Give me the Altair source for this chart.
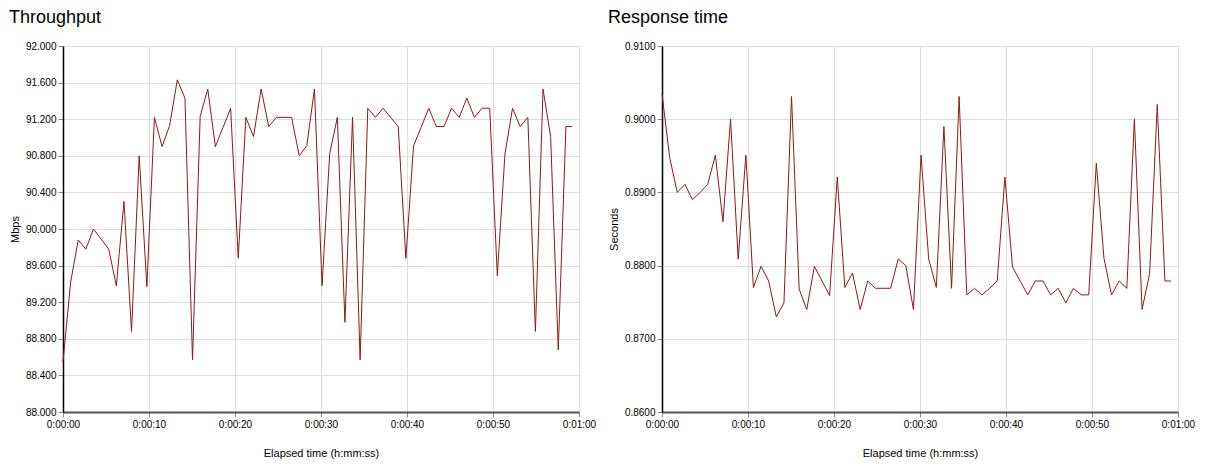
import altair as alt
import pandas as pd

# Elapsed time in seconds for each sample
elapsed_s = [0.00, 0.89, 1.77, 2.66, 3.54, 4.43, 5.32, 6.20, 7.09, 7.97,
             8.86, 9.75, 10.63, 11.52, 12.40, 13.29, 14.18, 15.06, 15.95, 16.83,
             17.72, 18.61, 19.49, 20.38, 21.26, 22.15, 23.04, 23.92, 24.81, 25.69,
             26.58, 27.47, 28.35, 29.24, 30.12, 31.01, 31.90, 32.78, 33.67, 34.55,
             35.44, 36.33, 37.21, 38.10, 38.98, 39.87, 40.76, 41.64, 42.53, 43.41,
             44.30, 45.19, 46.07, 46.96, 47.84, 48.73, 49.62, 50.50, 51.39, 52.27,
             53.16, 54.05, 54.93, 55.82, 56.70, 57.59, 58.48, 59.20]

# Throughput (Mbps)
throughput = [88.55, 89.42, 89.88, 89.78, 90.00, 89.89, 89.78, 89.38, 90.30, 88.88,
              90.80, 89.37, 91.22, 90.90, 91.13, 91.63, 91.43, 88.57, 91.23, 91.53,
              90.90, 91.11, 91.32, 89.68, 91.22, 91.01, 91.53, 91.12, 91.22, 91.22,
              91.22, 90.80, 90.91, 91.53, 89.38, 90.82, 91.22, 88.98, 91.22, 88.57,
              91.32, 91.22, 91.32, 91.22, 91.12, 89.68, 90.91, 91.11, 91.32, 91.12,
              91.12, 91.32, 91.22, 91.43, 91.22, 91.32, 91.32, 89.49, 90.82, 91.32,
              91.12, 91.22, 88.88, 91.53, 91.01, 88.68, 91.12, 91.12]

# Response time (seconds)
response = [0.9035, 0.8948, 0.8900, 0.8911, 0.8890, 0.8900, 0.8911, 0.8951, 0.8860, 0.9000,
            0.8809, 0.8951, 0.8770, 0.8799, 0.8779, 0.8730, 0.8749, 0.9031, 0.8768, 0.8740,
            0.8799, 0.8779, 0.8759, 0.8921, 0.8770, 0.8790, 0.8740, 0.8779, 0.8769, 0.8769,
            0.8769, 0.8809, 0.8800, 0.8740, 0.8951, 0.8809, 0.8770, 0.8990, 0.8769, 0.9031,
            0.8760, 0.8769, 0.8760, 0.8769, 0.8779, 0.8921, 0.8798, 0.8779, 0.8760, 0.8779,
            0.8779, 0.8760, 0.8769, 0.8749, 0.8769, 0.8760, 0.8760, 0.8940, 0.8810, 0.8760,
            0.8779, 0.8769, 0.9000, 0.8740, 0.8789, 0.9020, 0.8779, 0.8779]

x_ticks = [0, 10, 20, 30, 40, 50, 60]
tp_ticks = [88.0, 88.4, 88.8, 89.2, 89.6, 90.0, 90.4, 90.8, 91.2, 91.6, 92.0]
rt_ticks = [0.86, 0.87, 0.88, 0.89, 0.90, 0.91]

df = pd.DataFrame({"t": elapsed_s, "throughput": throughput, "response": response})

FONT = "Liberation Sans"
LINE = "#8B1A1A"
W, H = 516, 366

x_label_expr = ("'0:' + (datum.value >= 60 ? '01:00' : '00:' + "
                "(datum.value < 10 ? '0' : '') + datum.value)")


def panel(field, ytitle, title, domain, ticks, fmt):
    return alt.Chart(
        df,
        title=alt.TitleParams(title, anchor="start", fontSize=18, font=FONT,
                              fontWeight="normal", color="#000", offset=14),
    ).mark_line(color=LINE, strokeWidth=1).encode(
        x=alt.X("t:Q",
                scale=alt.Scale(domain=[0, 60], nice=False, zero=False),
                axis=alt.Axis(values=x_ticks, labelExpr=x_label_expr,
                              labelFlush=False,
                              title="Elapsed time (h:mm:ss)",
                              titleFontWeight="normal",
                              titleY=41, titleBaseline="middle",
                              domainColor="#555", domainWidth=2)),
        y=alt.Y(f"{field}:Q",
                scale=alt.Scale(domain=domain, nice=False, zero=False),
                axis=alt.Axis(values=ticks, format=fmt, title=ytitle,
                              titleFontWeight="normal",
                              titleX=-48, titleY=H / 2, titleAngle=-90,
                              titleAlign="center", titleBaseline="middle",
                              domainColor="#000", domainWidth=1.5)),
    ).properties(width=W, height=H)


left = panel("throughput", "Mbps", "Throughput", [88, 92], tp_ticks, ".3f")
right = panel("response", "Seconds", "Response time", [0.86, 0.91], rt_ticks, ".4f")

chart = alt.hconcat(left, right, spacing=83, bounds="flush").configure_view(
    stroke="#333", strokeWidth=1.5
).configure_axis(
    labelFont=FONT, labelFontSize=11.5, labelColor="#111",
    titleFont=FONT, titleFontSize=12.5, titleColor="#111", titleFontWeight="normal",
    gridColor="#c8c8c8", gridWidth=1, tickColor="#000", tickSize=4,
    labelPadding=2,
).configure(background="white", padding=0)

chart.save("out.html", embed_options={"renderer": "svg", "actions": False})
